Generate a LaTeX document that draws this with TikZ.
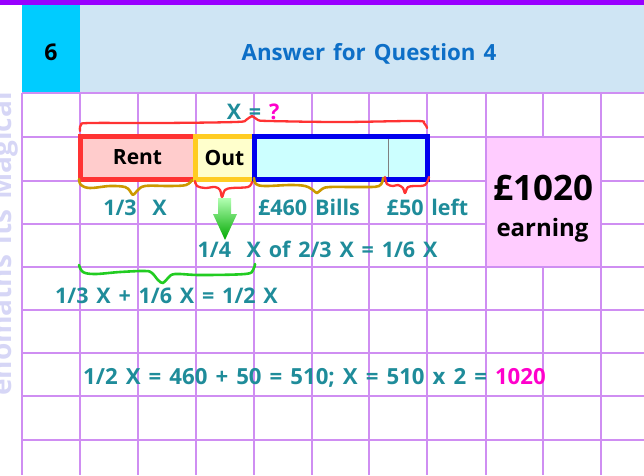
\documentclass[tikz,border=0pt]{standalone}
\usepackage{fontspec}
\setmainfont{Open Sans}[WordSpace=1.4]
\definecolor{gridc}{HTML}{CF8EF2}
\definecolor{topbar}{HTML}{9900FF}
\definecolor{hdrblue}{HTML}{CFE5F4}
\definecolor{hdrcyan}{HTML}{00CCFF}
\definecolor{ansblue}{HTML}{0D6FC7}
\definecolor{tealtx}{HTML}{1F8C9A}
\definecolor{magtx}{HTML}{FF00CC}
\definecolor{rentfill}{HTML}{FFCCCC}
\definecolor{rentline}{HTML}{FF3333}
\definecolor{outfill}{HTML}{FFFFCC}
\definecolor{outline}{HTML}{FFCC22}
\definecolor{billfill}{HTML}{CCFFFF}
\definecolor{billline}{HTML}{0000EE}
\definecolor{pinkfill}{HTML}{FFCCFF}
\definecolor{goldb}{HTML}{CC9900}
\definecolor{redb}{HTML}{FF3333}
\definecolor{greenb}{HTML}{22CC22}
\definecolor{wmark}{HTML}{D6D6F6}
\begin{document}
\begin{tikzpicture}[x=1pt,y=-1pt,
  gridline/.style={draw=gridc, line width=1.4pt},
  lbl/.style={text=tealtx, font=\bfseries\fontsize{21.5}{24}\selectfont, inner sep=0pt, anchor=base},
  barbox/.style={line width=5pt, minimum height=43pt, inner sep=0pt, font=\bfseries\fontsize{21}{24}\selectfont},
  bracepath/.style={line width=2.6pt, line cap=round, line join=round}]
\useasboundingbox (0,0) rectangle (644,475);
% header
\fill[topbar] (0,0) rectangle (644,5);
\fill[hdrcyan] (22,5) rectangle (80,93);
\fill[hdrblue] (80,5) rectangle (644,93);
\node[anchor=base, inner sep=0pt, font=\bfseries\fontsize{23}{26}\selectfont] (num) at (51,60) {6};
\node[anchor=base, inner sep=0pt, text=ansblue, font=\bfseries\fontsize{22.3}{26}\selectfont] (title) at (369,60) {Answer for Question 4};
% watermark
\node[rotate=90, anchor=base, inner sep=0pt, text=wmark, font=\bfseries\fontsize{28}{32}\selectfont] (wm) at (11,244) {enomaths its Magical};
% pink cell
\fill[pinkfill] (486,137) rectangle (601,267);
% grid
\foreach \x in {22,80,138,196,254,312,369,427,486,601}
  \draw[gridline] (\x,93) -- (\x,475);
\draw[gridline] (543,93) -- (543,137);
\draw[gridline] (543,267) -- (543,475);
\foreach \y in {93,137,267,310,353,396,440}
  \draw[gridline] (22,\y) -- (644,\y);
\foreach \y in {181,224}{
  \draw[gridline] (22,\y) -- (486,\y);
  \draw[gridline] (601,\y) -- (644,\y);}
% bar
\node[barbox, draw=rentline, fill=rentfill, minimum width=115pt] (rent) at (137.5,157.5) {Rent};
\node[barbox, draw=outline, fill=outfill, minimum width=59pt] (out) at (224.5,157.5) {Out};
\node[barbox, draw=billline, fill=billfill, minimum width=173pt] (bills) at (340.5,157.5) {};
\draw[gray, line width=0.8pt] (388,138.5) -- (388,177);
% braces
\draw[bracepath, redb, line width=2.3pt] plot[smooth, tension=0.6] coordinates {(80,131) (81,125) (90,123) (160,123) (235,122) (246,120) (252,116) (258,120) (270,121) (340,122) (415,121) (424,123) (427,128)};
\draw[bracepath, goldb] plot[smooth, tension=0.6] coordinates {(79,179) (81,185) (90,188) (110,186) (125,187) (130,191) (133,195) (137,191) (145,186) (170,186) (186,185) (192,180)};
\draw[bracepath, redb, line width=2.3pt] plot[smooth, tension=0.6] coordinates {(195,181) (197,186) (205,188) (215,187) (220,190) (222,197) (225,190) (232,188) (248,187) (252,182)};
\draw[bracepath, goldb] plot[smooth, tension=0.6] coordinates {(254,178) (256,184) (265,186) (290,185) (305,186) (313,190) (317,193) (322,189) (330,187) (360,187) (379,186) (383,178)};
\draw[bracepath, redb, line width=2.3pt] plot[smooth, tension=0.6] coordinates {(385,177) (387,184) (393,186) (398,185) (403,188) (405,193) (408,187) (415,186) (425,185) (429,177)};
\draw[bracepath, greenb] plot[smooth, tension=0.6] coordinates {(79,265) (83,272) (95,274) (120,272) (145,271) (152,273) (158,280) (163,283) (168,278) (175,274) (200,275) (245,274) (253,270) (255,264)};
% green arrow
\shade[top color=green!30!white, bottom color=green!60!black!85!green] (218,198) -- (231,198) -- (231,214) -- (237,214) -- (225,240) -- (213,214) -- (218,214) -- cycle;
% labels
\node[lbl] (xq) at (253,119) {X = \textcolor{magtx}{?}};
\node[lbl] (l13) at (135,215) {1/3\ \ X};
\node[lbl] (l460) at (309,215) {£460 Bills};
\node[lbl] (l50) at (427.5,215) {£50 left};
\node[lbl] (l14) at (317.5,257) {1/4\ \ X of 2/3 X = 1/6 X};
\node[lbl] (lsum) at (166.5,303) {1/3 X + 1/6 X = 1/2 X};
\node[lbl, anchor=base west, font=\bfseries\fontsize{22.2}{24}\selectfont] (lmain) at (83,384) {1/2 X = 460 + 50 = 510; X = 510 x 2 = \textcolor{magtx}{1020}};
\node[anchor=base, inner sep=0pt, font=\bfseries\fontsize{35}{38}\selectfont] (earn) at (543,200) {£1020};
\node[anchor=base, inner sep=0pt, font=\bfseries\fontsize{24}{26}\selectfont] (earnt) at (542.5,236) {earning};
\end{tikzpicture}
\end{document}
